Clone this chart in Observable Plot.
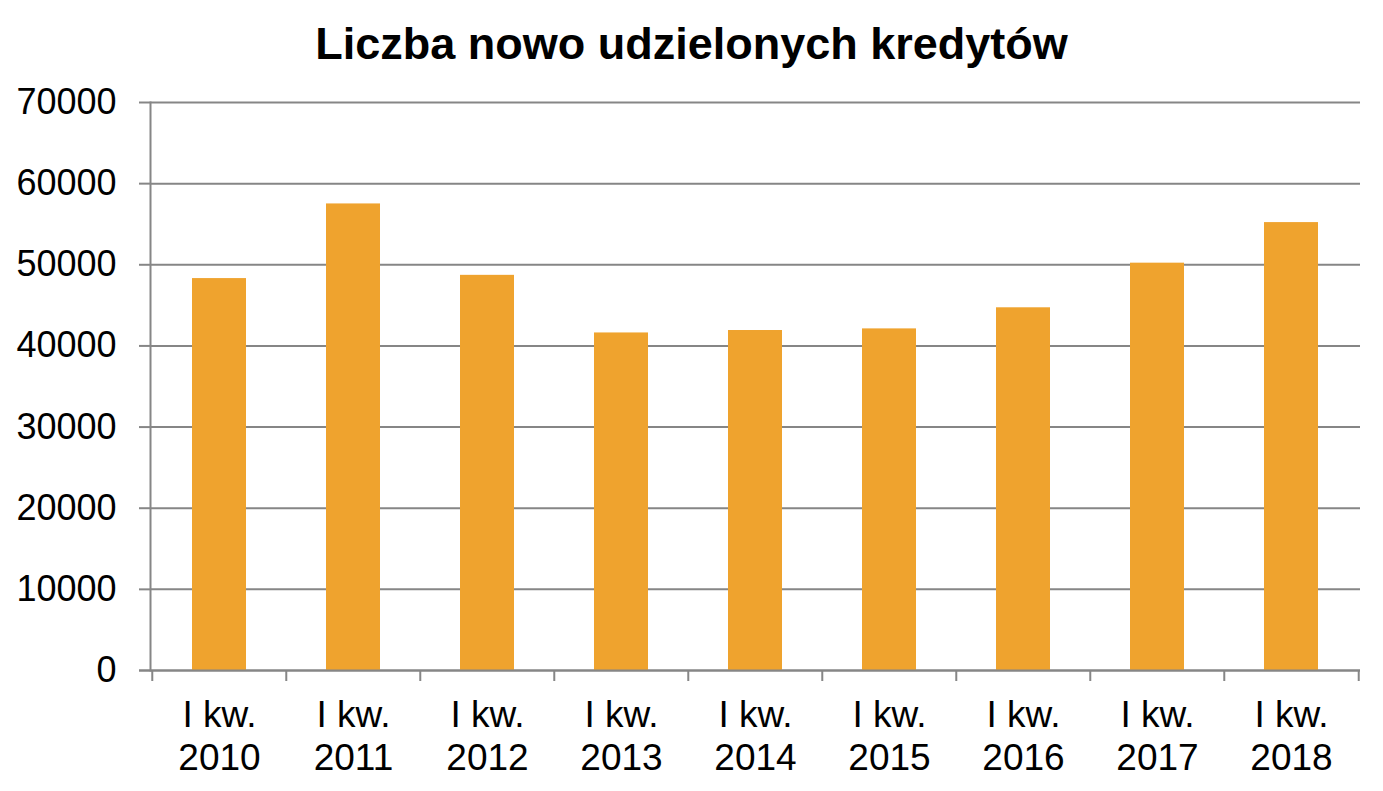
<!DOCTYPE html>
<html>
<head>
<meta charset="utf-8">
<script src="https://cdn.jsdelivr.net/npm/d3@7"></script>
<script src="https://cdn.jsdelivr.net/npm/@observablehq/plot@0.6"></script>
<style>
  html, body { margin: 0; padding: 0; background: #fff; }
  #title { height: 80px; width: 1383px; text-align: center; font-family: "Liberation Sans", Arial, sans-serif; font-weight: bold; font-size: 45px; line-height: 88px; color: #000; overflow: hidden; }
  svg { display: block; }
</style>
</head>
<body>
<div id="title">Liczba nowo udzielonych kredytów</div>
<div id="chart"></div>
<script>
const categories = ["I kw.\n2010", "I kw.\n2011", "I kw.\n2012", "I kw.\n2013", "I kw.\n2014", "I kw.\n2015", "I kw.\n2016", "I kw.\n2017", "I kw.\n2018"];
const values = [48300, 57500, 48700, 41600, 41900, 42100, 44700, 50200, 55200];
const yTicks = [0, 10000, 20000, 30000, 40000, 50000, 60000, 70000];

const data = categories.map((c, i) => ({category: c, value: values[i]}));

const W = 1383, H = 711, ML = 150, MR = 23, MT = 22, MB = 121;
const step = (W - ML - MR) / categories.length;
const gray = "#868686";
const font = "Liberation Sans, Arial, sans-serif";

const chart = Plot.plot({
  width: W,
  height: H,
  marginLeft: ML,
  marginRight: MR,
  marginTop: MT,
  marginBottom: MB,
  style: {fontFamily: font, background: "#fff"},
  x: {domain: categories, paddingInner: 0.6, paddingOuter: 0.3, label: null},
  y: {domain: [0, 70000], label: null},
  marks: [
    Plot.gridY(yTicks, {stroke: gray, strokeOpacity: 1, strokeWidth: 2}),
    Plot.barY(data, {x: "category", y: "value", fill: "#EFA32E"}),
    Plot.frame({anchor: "left", stroke: gray, strokeWidth: 2}),
    Plot.ruleY([0], {stroke: gray, strokeWidth: 2, insetLeft: -11}),
    Plot.axisY(yTicks, {tickSize: 11, tickPadding: 23, fontSize: 36, stroke: gray, strokeWidth: 2, fill: "#000", tickFormat: d => String(d), label: null}),
    Plot.axisX({tickSize: 11, dx: -step / 2, stroke: gray, strokeWidth: 2, text: null, label: null}),
    Plot.axisX([categories[categories.length - 1]], {tickSize: 11, dx: step / 2, stroke: gray, strokeWidth: 2, text: null, label: null}),
    Plot.axisX({tickSize: 0, tickPadding: 25, fontSize: 37, lineHeight: 1.18, fill: "#000", label: null})
  ]
});
document.getElementById("chart").appendChild(chart);
</script>
</body>
</html>
